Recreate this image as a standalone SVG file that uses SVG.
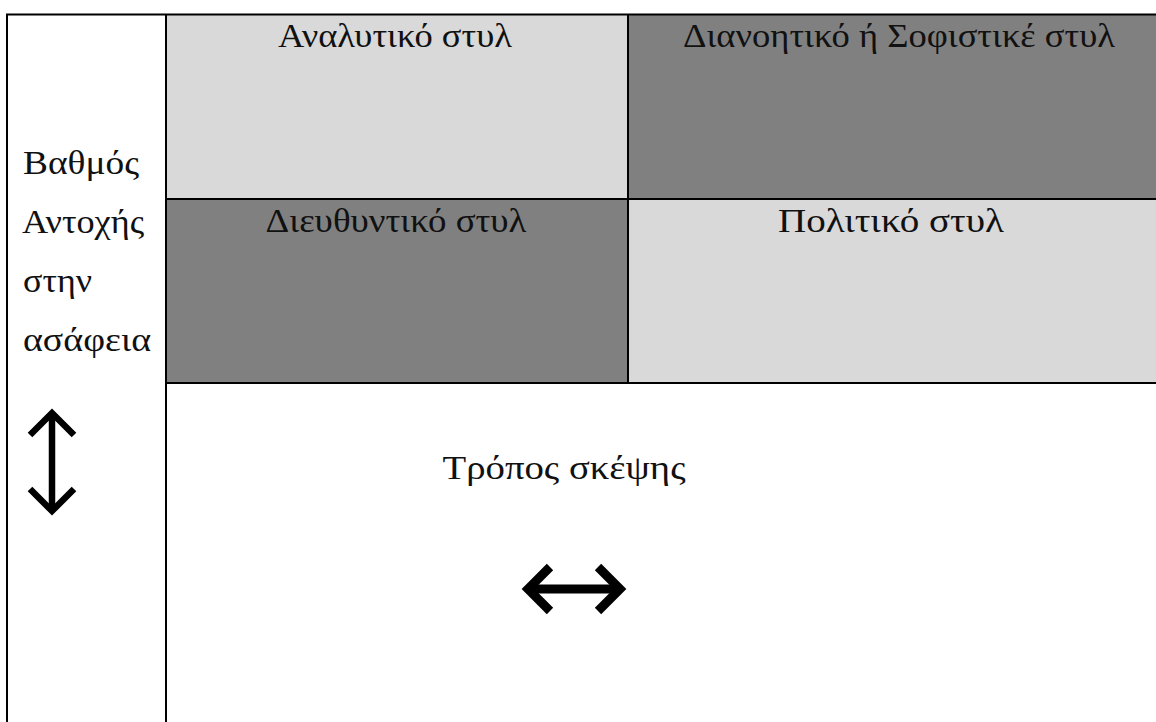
<svg xmlns="http://www.w3.org/2000/svg" width="1156" height="722" viewBox="0 0 1156 722">
  <style>
    .light { fill: #d9d9d9; }
    .dark { fill: #808080; }
    .rule { stroke: #000; stroke-width: 2; fill: none; }
    .label { font-family: "Liberation Serif", "DejaVu Serif", serif; font-size: 33px; fill: #111; }
    .mid { text-anchor: middle; }
    .arrow { stroke: #000; fill: none; stroke-linecap: butt; stroke-linejoin: miter; }
  </style>
  <rect x="0" y="0" width="1156" height="722" fill="#fff"/>

  <!-- quadrant cells -->
  <g id="cell-analytic">
    <rect class="light" x="166" y="14" width="462" height="185"/>
    <text class="label mid" x="395" y="47" textLength="234" lengthAdjust="spacingAndGlyphs">Αναλυτικό στυλ</text>
  </g>
  <g id="cell-conceptual">
    <rect class="dark" x="628" y="14" width="528" height="185"/>
    <text class="label mid" x="899" y="47" textLength="432" lengthAdjust="spacingAndGlyphs">Διανοητικό ή Σοφιστικέ στυλ</text>
  </g>
  <g id="cell-directive">
    <rect class="dark" x="166" y="199" width="462" height="184"/>
    <text class="label mid" x="396" y="232" textLength="261" lengthAdjust="spacingAndGlyphs">Διευθυντικό στυλ</text>
  </g>
  <g id="cell-behavioral">
    <rect class="light" x="628" y="199" width="528" height="184"/>
    <text class="label mid" x="891" y="232" textLength="226" lengthAdjust="spacingAndGlyphs">Πολιτικό στυλ</text>
  </g>

  <!-- vertical axis caption -->
  <g id="axis-tolerance">
    <text class="label" x="23" y="174" textLength="116" lengthAdjust="spacingAndGlyphs">Βαθμός</text>
    <text class="label" x="22" y="233" textLength="122" lengthAdjust="spacingAndGlyphs">Αντοχής</text>
    <text class="label" x="23" y="292" textLength="69" lengthAdjust="spacingAndGlyphs">στην</text>
    <text class="label" x="23" y="351" textLength="128" lengthAdjust="spacingAndGlyphs">ασάφεια</text>
    <g class="arrow" stroke-width="6.5">
      <line x1="52" y1="413" x2="52" y2="511"/>
      <polyline points="30,435 52,413 74,435"/>
      <polyline points="30,489 52,511 74,489"/>
    </g>
  </g>

  <!-- horizontal axis caption -->
  <g id="axis-thinking">
    <text class="label mid" x="564" y="479" textLength="243" lengthAdjust="spacingAndGlyphs">Τρόπος σκέψης</text>
    <g class="arrow" stroke-width="9">
      <line x1="530" y1="589" x2="619" y2="589"/>
      <polyline points="550,567 528,589 550,611"/>
      <polyline points="598,567 620,589 598,611"/>
    </g>
  </g>

  <!-- table rules -->
  <g id="connectors">
    <line class="rule" x1="6" y1="14.5" x2="1156" y2="14.5"/>
    <line class="rule" x1="7" y1="14" x2="7" y2="722" stroke-width="1.6"/>
    <line class="rule" x1="166" y1="14" x2="166" y2="722" stroke-width="1.6"/>
    <line class="rule" x1="628" y1="14" x2="628" y2="383"/>
    <line class="rule" x1="166" y1="199" x2="1156" y2="199"/>
    <line class="rule" x1="166" y1="383" x2="1156" y2="383"/>
  </g>
</svg>
